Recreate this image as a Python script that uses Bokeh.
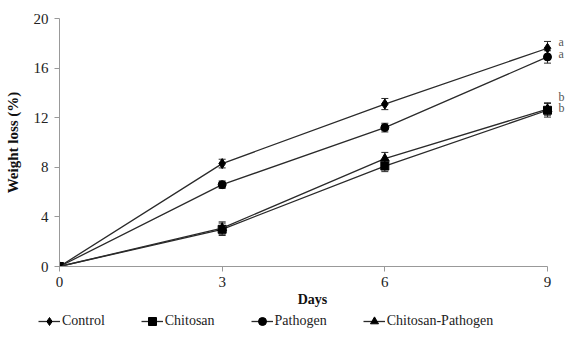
from bokeh.plotting import figure
from bokeh.models import (ColumnDataSource, Whisker, TeeHead, Legend, LegendItem,
                          Range1d, FixedTicker, Label)
from bokeh.layouts import column, row
from bokeh.embed import file_html
from bokeh.resources import INLINE

days = [0, 3, 6, 9]
series_names = ["Control", "Chitosan", "Pathogen", "Chitosan-Pathogen"]
control = [0, 8.3, 13.1, 17.6]
control_err = [0, 0.35, 0.45, 0.55]
chitosan = [0, 3.0, 8.1, 12.6]
chitosan_err = [0, 0.5, 0.45, 0.55]
pathogen = [0, 6.6, 11.2, 16.9]
pathogen_err = [0, 0.3, 0.35, 0.5]
chit_path = [0, 3.1, 8.7, 12.7]
chit_path_err = [0, 0.5, 0.5, 0.5]
letters = ["a", "a", "b", "b"]
letter_y = [18.1, 17.1, 13.7, 12.8]
x_ticks = [0, 3, 6, 9]
y_ticks = [0, 4, 8, 12, 16, 20]

FONT = "Liberation Serif"
LINE = "#2a2a2a"

# frame runs to the right edge so the significance letters fit inside it;
# the x axis line itself stops at day 9
p = figure(width=565, height=309, output_backend="svg", toolbar_location=None,
           x_range=Range1d(0, 9.332), y_range=Range1d(0, 20),
           min_border_left=59, min_border_right=0, min_border_top=18,
           min_border_bottom=42)
p.outline_line_color = None
p.grid.visible = False

for ax in (p.xaxis[0], p.yaxis[0]):
    ax.axis_line_color = "#999999"
    ax.major_tick_line_color = "#999999"
    ax.minor_tick_line_color = None
    ax.major_tick_in = 0
    ax.major_tick_out = 5
    ax.major_label_text_font = FONT
    ax.major_label_text_font_size = "15px"
    ax.major_label_text_color = "#222222"
    ax.axis_label_text_font = FONT
    ax.axis_label_text_font_style = "bold"
    ax.axis_label_text_color = "#111111"

p.xaxis.bounds = (0, 9)
p.xaxis.axis_label_text_font_size = "14px"
p.yaxis.axis_label_text_font_size = "15px"
p.xaxis.ticker = FixedTicker(ticks=x_ticks)
p.yaxis.ticker = FixedTicker(ticks=y_ticks)
p.xaxis.axis_label = "Days"
p.yaxis.axis_label = "Weight loss (%)"
p.xaxis.major_label_standoff = 5
p.xaxis.axis_label_standoff = 2
p.yaxis.major_label_standoff = 6
p.yaxis.axis_label_standoff = 10

markers = ["diamond", "square", "circle", "triangle"]
sizes = [10, 8, 8, 9]
vals = [control, chitosan, pathogen, chit_path]
errs = [control_err, chitosan_err, pathogen_err, chit_path_err]

# legend-only strip below the chart (its ranges keep the copies out of view)
lf = figure(width=565, height=36, output_backend="svg", toolbar_location=None,
            x_range=Range1d(100, 101), y_range=Range1d(100, 101),
            min_border=0, min_border_left=0, min_border_right=0,
            min_border_top=0, min_border_bottom=0,
            x_axis_location=None, y_axis_location=None)
lf.grid.visible = False
lf.outline_line_color = None

items = []
for name, mk, sz, v, e in zip(series_names, markers, sizes, vals, errs):
    lo = [a - b for a, b in zip(v, e)]
    hi = [a + b for a, b in zip(v, e)]
    src = ColumnDataSource(dict(x=days, y=v, lo=lo, hi=hi))
    w = Whisker(source=src, base="x", lower="lo", upper="hi",
                line_color=LINE, line_width=1,
                upper_head=TeeHead(size=7, line_color=LINE, line_width=1),
                lower_head=TeeHead(size=7, line_color=LINE, line_width=1))
    p.add_layout(w)
    p.line("x", "y", source=src, line_color=LINE, line_width=1.3)
    p.scatter("x", "y", source=src, marker=mk, size=sz,
              fill_color="black", line_color="black")
    l1 = lf.line("x", "y", source=src, line_color=LINE, line_width=1.3)
    l2 = lf.scatter("x", "y", source=src, marker=mk, size=sz - 1,
                    fill_color="black", line_color="black")
    items.append(LegendItem(label=name, renderers=[l1, l2]))

for t, yv in zip(letters, letter_y):
    p.add_layout(Label(x=9, y=yv, text=t, x_offset=11, text_font=FONT,
                       text_font_size="12px", text_color="#555555",
                       text_baseline="middle"))

legend = Legend(items=items, orientation="horizontal", location=(38, 14),
                label_text_font=FONT, label_text_font_size="14px",
                label_text_color="#222222", border_line_color=None,
                background_fill_alpha=0, spacing=36, glyph_width=22,
                label_standoff=2, margin=0, padding=0)
lf.add_layout(legend)

layout = column(p, row(lf), spacing=0)
open("out.html", "w").write(file_html(layout, INLINE))
